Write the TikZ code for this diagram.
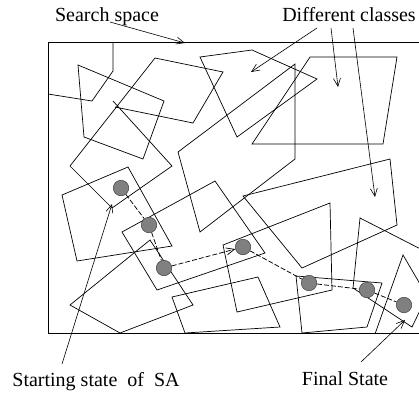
\documentclass[tikz,border=0pt]{standalone}
\usepackage{fontspec}
\setmainfont{Liberation Serif}
\usetikzlibrary{arrows.meta}
\begin{document}
\begin{tikzpicture}[x=1pt,y=-1pt, line width=0.7pt,
  region/.style={draw, line join=miter},
  lbl/.style={font=\fontsize{20}{24}\selectfont, anchor=base, inner sep=0pt},
  ptr/.style={-{Straight Barb[length=8pt,width=7pt]}, line width=0.6pt},
  dot/.style={circle, fill=black!50, draw=black!75, line width=0.5pt, minimum size=15.5pt, inner sep=0pt},
  walk/.style={dash pattern=on 5pt off 2pt, line width=0.75pt, black}]
\useasboundingbox (0,0) rectangle (419,394);
\clip (0,0) rectangle (419,394);
% frame (search space)
\draw[region] (440,42) -- (48,42) -- (48,333) -- (440,333);
% class regions
\draw[region] (113,42) -- (113,71) -- (92,101) -- (48,94);
\draw[region] (78,65) -- (164,101) -- (143,159) -- (84,137) -- cycle;
\draw[region] (115,107) -- (193,123) -- (223,72) -- (155,58) -- (70,166) -- (112,208) -- (172,166) -- (113,101);
\draw[region] (62,195) -- (128,167) -- (172,246) -- (77,261) -- cycle;
\draw[region] (122,232) -- (215,181) -- (265,253) -- (157,290) -- cycle;
\draw[region] (150,240) -- (193,305) -- (120,333) -- (70,305) -- cycle;
\draw[region] (172,297) -- (258,277) -- (280,327) -- (185,333) -- cycle;
\draw[region] (200,57) -- (252,50) -- (317,79) -- (237,137) -- cycle;
\draw[region] (310,57) -- (397,57) -- (383,144) -- (252,144) -- cycle;
\draw[region] (178,152) -- (295,64) -- (295,159) -- (200,232) -- cycle;
\draw[region] (223,245) -- (330,203) -- (332,290) -- (237,312) -- cycle;
\draw[region] (243,196) -- (390,159) -- (397,225) -- (302,268) -- cycle;
\draw[region] (296,276) -- (382,283) -- (367,327) -- (302,333) -- cycle;
\draw[region] (360,218) -- (444,261) -- (412,327) -- (353,288) -- cycle;
\draw[region] (375,334) -- (403,255) -- (440,318);
% labels
\node[lbl] (search) at (107,21) {Search space};
\node[lbl] (classes) at (349,21) {Different classes};
\node[lbl] (start) at (96,386) {Starting state\ \ of\ \ SA};
\node[lbl] (final) at (345,385) {Final State};
% pointer ends
\coordinate (s0) at (110,22);  \coordinate (s1) at (185,43);
\coordinate (c0) at (317,28);  \coordinate (c1) at (251,72);
\coordinate (c2) at (331,28);  \coordinate (c3) at (338,87);
\coordinate (c4) at (353,28);  \coordinate (c5) at (375,197);
\coordinate (a0) at (62,364);  \coordinate (a1) at (112,204);
\coordinate (f0) at (361,362); \coordinate (f1) at (405,320);
\draw[ptr] (s0) -- (s1);
\draw[ptr] (c0) -- (c1);
\draw[ptr] (c2) -- (c3);
\draw[ptr] (c4) -- (c5);
\draw[ptr] (a0) -- (a1);
\draw[ptr] (f0) -- (f1);
% SA walk
\node[dot] (d1) at (121,188) {};
\node[dot] (d2) at (149,225) {};
\node[dot] (d3) at (164,268) {};
\node[dot] (d4) at (243,247) {};
\node[dot] (d5) at (309,283) {};
\node[dot] (d6) at (367,290) {};
\node[dot] (d7) at (404,305) {};
\draw[walk] (d1) -- (d2) -- (d3);
\draw[walk, -{Straight Barb[length=8pt,width=7pt]}] (d3) -- (d4);
\draw[walk] (d4) -- (d5) -- (d6) -- (d7);
\end{tikzpicture}
\end{document}
